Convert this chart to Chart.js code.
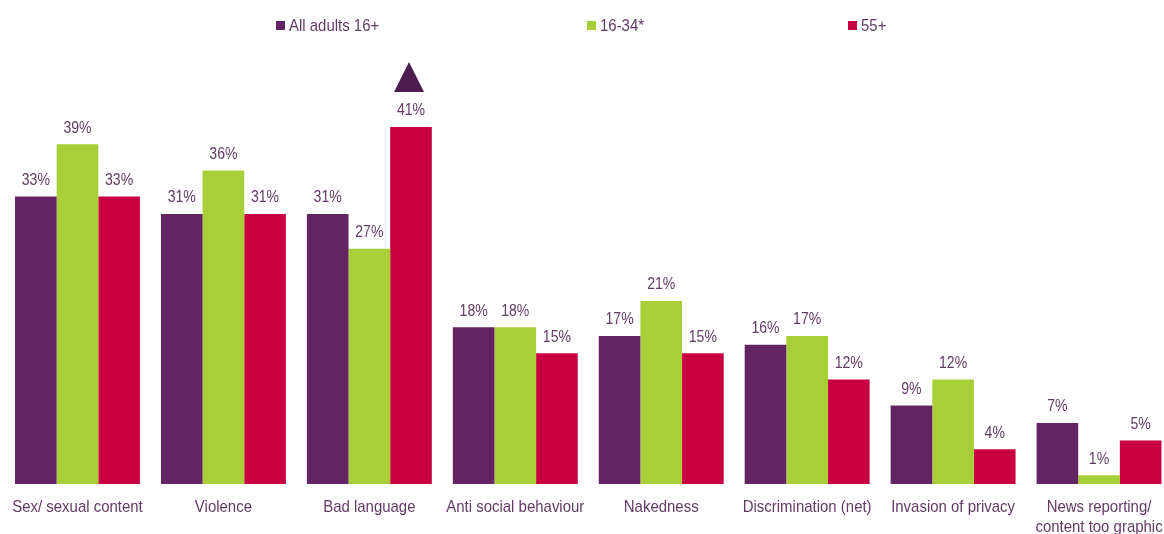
<!DOCTYPE html>
<html>
<head>
<meta charset="utf-8">
<script src="https://cdn.jsdelivr.net/npm/chart.js@4/dist/chart.umd.min.js"></script>
<style>
  html, body { margin: 0; padding: 0; background: #fff; overflow: hidden; }
  #wrap { width: 1172px; height: 534px; }
</style>
</head>
<body>
<div id="wrap"><canvas id="myChart"></canvas></div>
<script>
// categories and series
var categories = ['Sex/ sexual content', 'Violence', 'Bad language', 'Anti social behaviour',
  'Nakedness', 'Discrimination (net)', 'Invasion of privacy', ['News reporting/', 'content too graphic']];
var seriesNames = ['All adults 16+', '16-34*', '55+'];
var allAdults = [33, 31, 31, 18, 17, 16, 9, 7];
var young = [39, 36, 27, 18, 21, 17, 12, 1];
var older = [33, 31, 41, 15, 15, 12, 4, 5];
// significant difference flag (dataset index, category index)
var flagged = [[2, 2]];

var PURPLE = '#632463';
var GREEN = '#a9cf38';
var CRIMSON = '#c8003f';
var TEXT = '#633a66';
var FONT = "'Liberation Sans', Arial, sans-serif";
var SQUEEZE = 0.88; // narrow look for all text

// draws text horizontally squeezed so it reads like a narrow face
function narrowText(ctx, text, x, y, align) {
  ctx.save();
  ctx.translate(x, y);
  ctx.scale(SQUEEZE, 1);
  ctx.textAlign = align;
  ctx.fillText(text, 0, 0);
  ctx.restore();
}

// value labels above each bar
var valueLabels = {
  id: 'valueLabels',
  afterDatasetsDraw: function(chart) {
    var ctx = chart.ctx;
    ctx.save();
    ctx.font = '16px ' + FONT;
    ctx.fillStyle = TEXT;
    ctx.textBaseline = 'bottom';
    chart.data.datasets.forEach(function(ds, i) {
      chart.getDatasetMeta(i).data.forEach(function(bar, j) {
        narrowText(ctx, ds.data[j] + '%', bar.x, bar.y - 8, 'center');
      });
    });
    ctx.restore();
  }
};

// category names under the groups
var categoryLabels = {
  id: 'categoryLabels',
  afterDraw: function(chart) {
    var ctx = chart.ctx;
    var xScale = chart.scales.x;
    ctx.save();
    ctx.font = '17px ' + FONT;
    ctx.fillStyle = TEXT;
    ctx.textBaseline = 'middle';
    categories.forEach(function(cat, i) {
      var lines = Array.isArray(cat) ? cat : [cat];
      var x = xScale.getPixelForTick(i);
      lines.forEach(function(line, k) {
        narrowText(ctx, line, x, chart.chartArea.bottom + 23 + k * 20, 'center');
      });
    });
    ctx.restore();
  }
};

// triangle marker over flagged bars
var markers = {
  id: 'markers',
  afterDatasetsDraw: function(chart) {
    var ctx = chart.ctx;
    ctx.save();
    ctx.fillStyle = '#4e1d4f';
    flagged.forEach(function(f) {
      var bar = chart.getDatasetMeta(f[0]).data[f[1]];
      var x = bar.x - 2, base = bar.y - 35;
      ctx.beginPath();
      ctx.moveTo(x - 15, base);
      ctx.lineTo(x + 15, base);
      ctx.lineTo(x, base - 30);
      ctx.closePath();
      ctx.fill();
    });
    ctx.restore();
  }
};

// legend across the top
var topLegend = {
  id: 'topLegend',
  afterDraw: function(chart) {
    var ctx = chart.ctx;
    var xs = [276, 587, 848];
    var colors = [PURPLE, GREEN, CRIMSON];
    ctx.save();
    ctx.font = '17px ' + FONT;
    ctx.textBaseline = 'middle';
    seriesNames.forEach(function(name, i) {
      ctx.fillStyle = colors[i];
      ctx.fillRect(xs[i], 21, 9, 9);
      ctx.fillStyle = TEXT;
      narrowText(ctx, name, xs[i] + 13, 26, 'left');
    });
    ctx.restore();
  }
};

var ctx = document.getElementById('myChart');
var myChart = new Chart(ctx, {
  type: 'bar',
  data: {
    labels: categories,
    datasets: [
      { label: seriesNames[0], data: allAdults, backgroundColor: PURPLE },
      { label: seriesNames[1], data: young, backgroundColor: GREEN },
      { label: seriesNames[2], data: older, backgroundColor: CRIMSON }
    ]
  },
  options: {
    responsive: true,
    maintainAspectRatio: false,
    animation: false,
    layout: { padding: { top: 48.5, left: 4.5, right: 0, bottom: 0 } },
    plugins: {
      legend: { display: false },
      tooltip: { enabled: false }
    },
    datasets: {
      bar: { categoryPercentage: 0.856, barPercentage: 1.0 }
    },
    scales: {
      x: {
        grid: { display: false, drawTicks: false },
        border: { display: false },
        ticks: { display: false },
        afterFit: function(scale) {
          scale.height = 50;
          scale.paddingLeft = 0;
          scale.paddingRight = 0;
        }
      },
      y: {
        display: false,
        min: 0,
        max: 50
      }
    }
  },
  plugins: [valueLabels, markers, categoryLabels, topLegend]
});
</script>
</body>
</html>
